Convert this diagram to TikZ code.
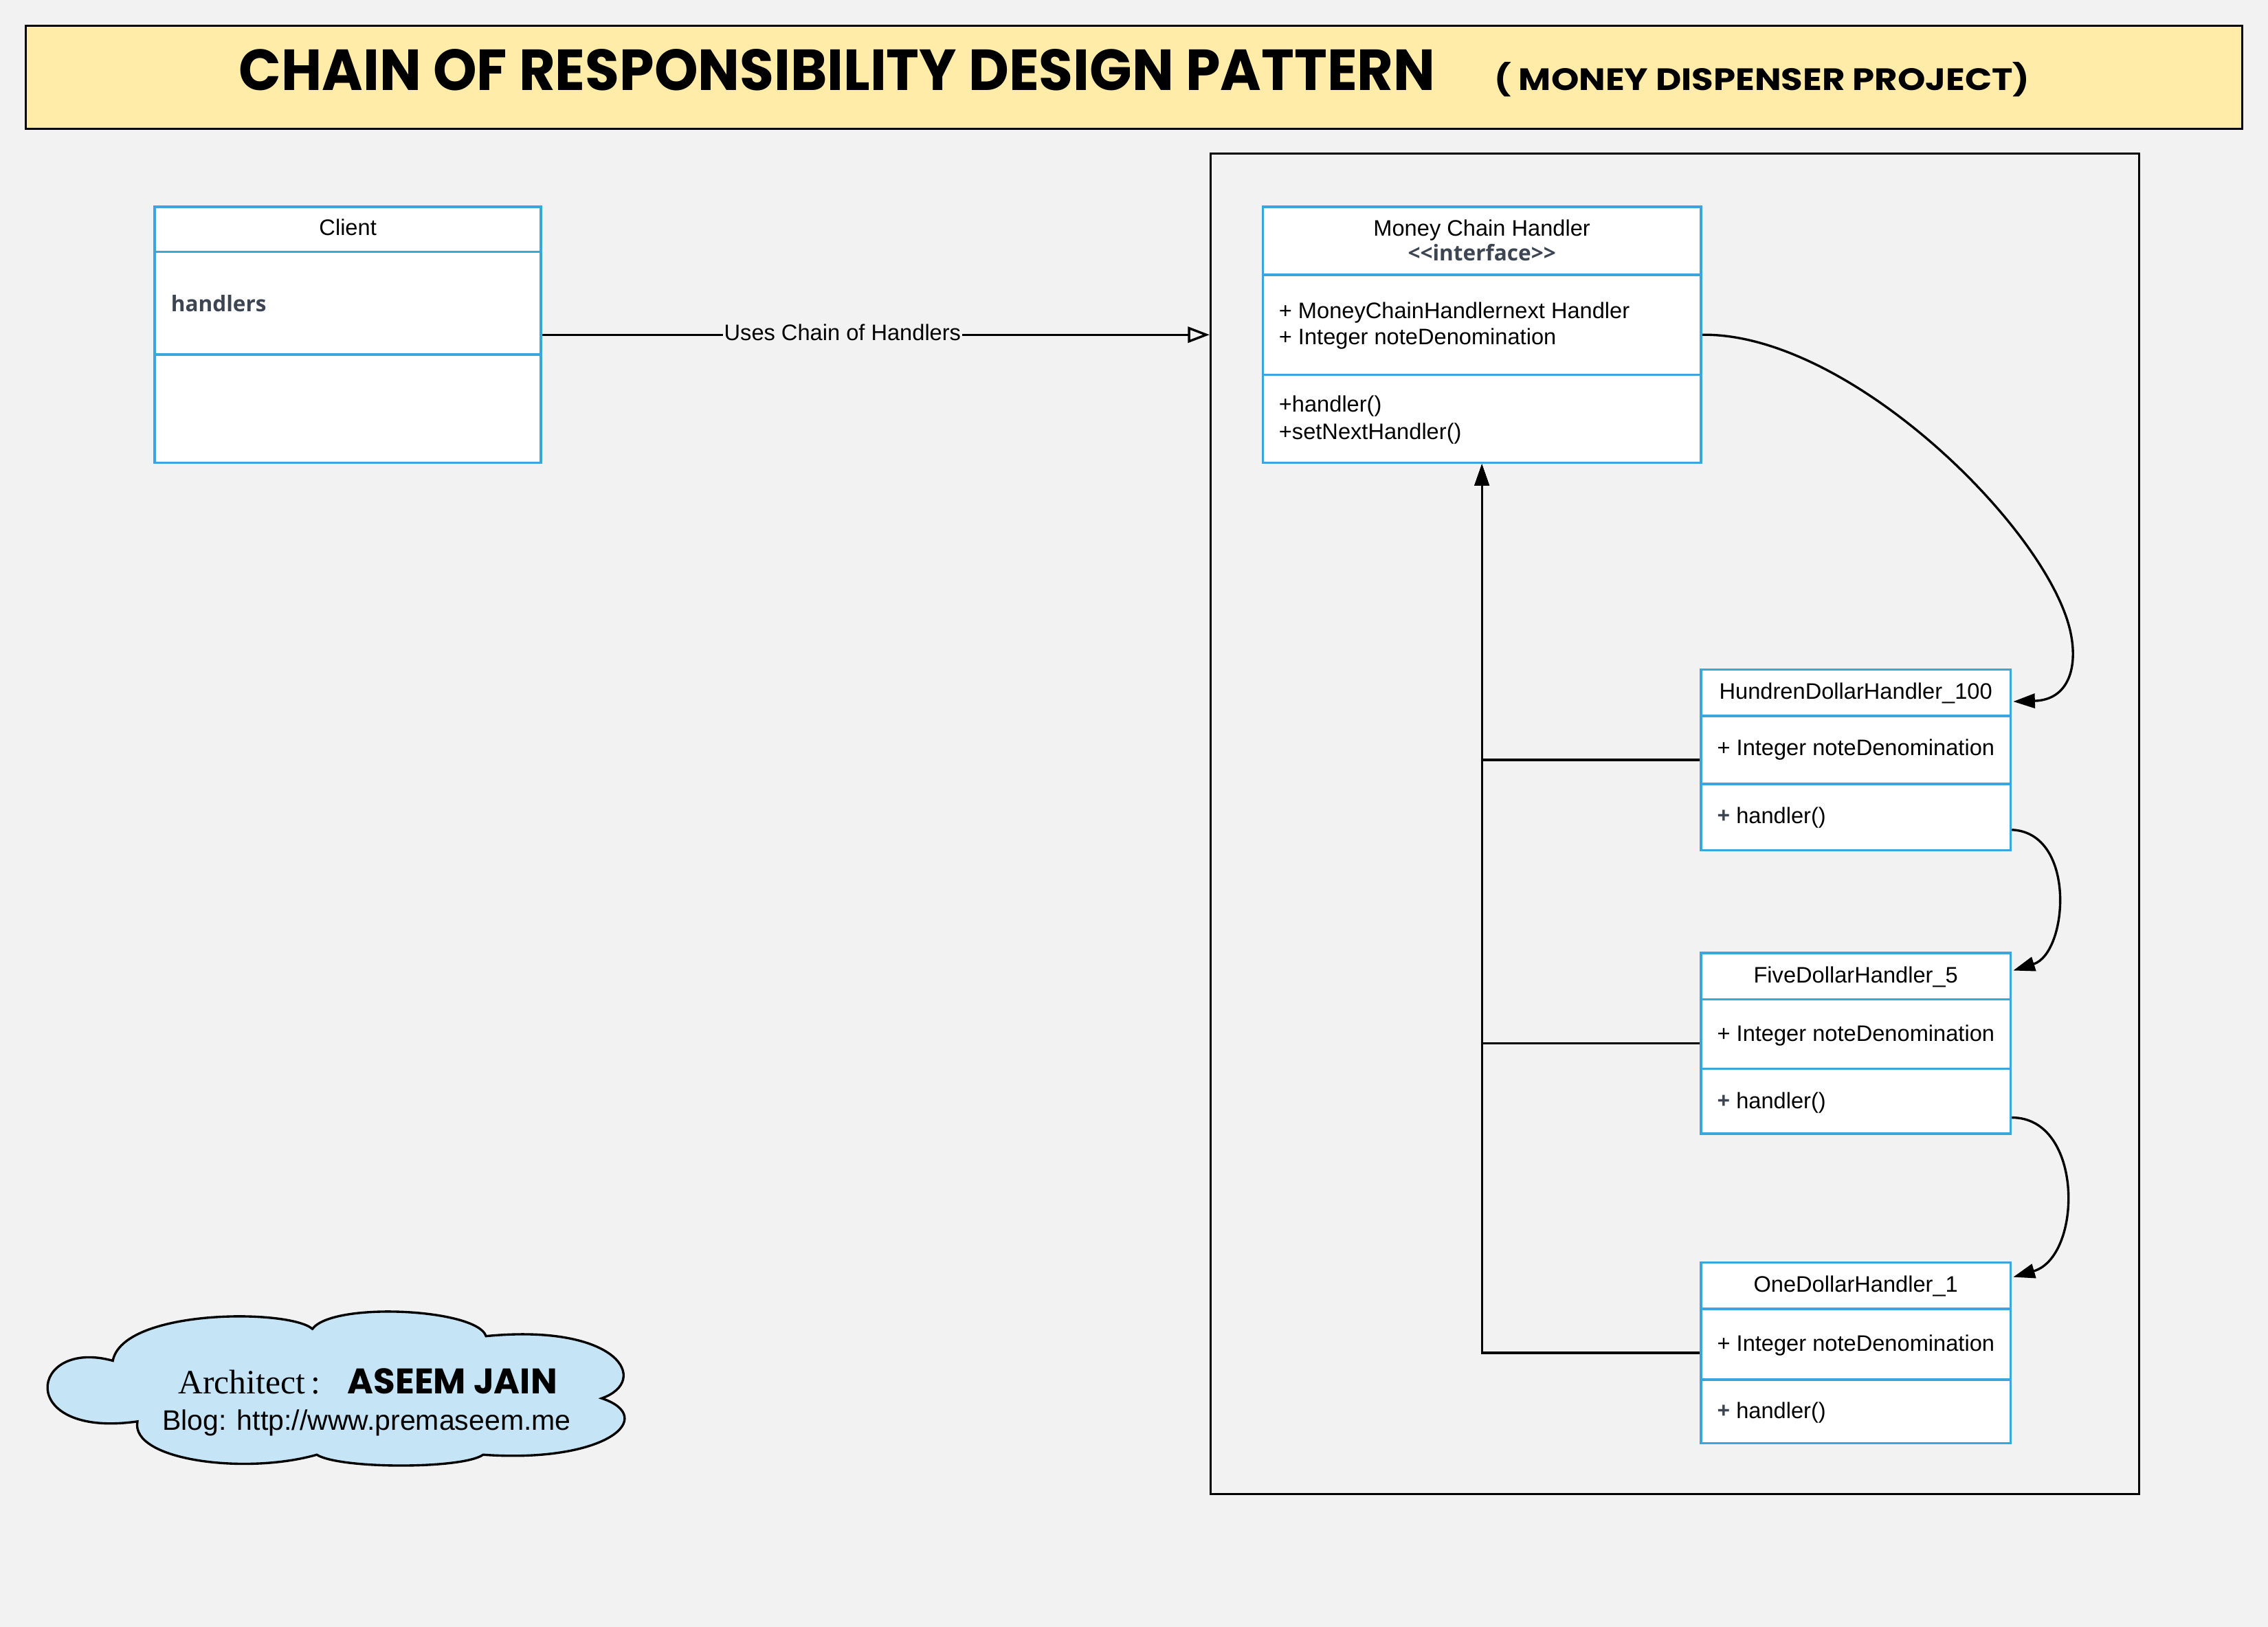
\documentclass[tikz,border=0pt]{standalone}
\usepackage{graphicx}
\usepackage{fontspec}
\setmainfont{Liberation Sans}
\newfontfamily\serifA{Liberation Serif}
\newfontfamily\uifont{Open Sans}
\newfontfamily\comicA{Poppins}
\usetikzlibrary{arrows.meta,calc}
\definecolor{bgc}{HTML}{F2F2F2}
\definecolor{hdrfill}{HTML}{FFECA9}
\definecolor{umlblue}{HTML}{3AA6DB}
\definecolor{cloudfill}{HTML}{C5E4F6}
\definecolor{greytxt}{HTML}{3D4552}
\tikzset{
  umlbox/.style={draw=umlblue, line width=1.7pt, fill=white, inner sep=0pt},
  divider/.style={draw=umlblue, line width=1.7pt},
  txt/.style={inner sep=0pt, font=\fontsize{15.5}{18}\selectfont, text height=11.1pt, text depth=0pt},
  uitxt/.style={inner sep=0pt, font=\fontsize{15}{18}\uifont\bfseries, text=greytxt, text height=10.8pt, text depth=0pt},
  conn/.style={draw=black, line width=1.6pt},
  tipfill/.style={-{Triangle[length=15pt,width=10pt]}},
  lbl/.style={fill=bgc, inner sep=1pt, font=\fontsize{15.5}{18}\selectfont, text height=11.1pt, text depth=0pt}
}
\begin{document}
\begin{tikzpicture}[x=1pt,y=-1pt]
\useasboundingbox[fill=bgc] (0,0) rectangle (1568,1125);

% header
\node[draw=black, line width=1.5pt, fill=hdrfill, minimum width=1532pt, minimum height=71pt, inner sep=0pt] (hdr) at (784,53.5) {};
\node[anchor=base west, inner sep=0pt] (title) at (165,62.5) {\resizebox{827pt}{28.5pt}{\comicA\bfseries CHAIN OF RESPONSIBILITY DESIGN PATTERN}};
\node[anchor=base west, inner sep=0pt] (subtitle) at (1033,62.5) {\resizebox{370pt}{19.5pt}{\comicA\bfseries( MONEY DISPENSER PROJECT)}};

% frame
\node[draw=black, line width=1.5pt, minimum width=642pt, minimum height=927pt, inner sep=0pt] (frame) at (1158,569.5) {};

% client
\node[umlbox, minimum width=267pt, minimum height=177pt] (client) at (240.5,231.5) {};
\draw[divider] ([yshift=-32pt]client.north west) -- ([yshift=-32pt]client.north east);
\draw[divider] ([yshift=-103pt]client.north west) -- ([yshift=-103pt]client.north east);
\node[txt] (clientT) at (240.5,157) {Client};
\node[uitxt, anchor=west] (clientA) at (118,210) {handlers};

% money chain handler
\node[umlbox, minimum width=303pt, minimum height=177pt] (mch) at (1024.5,231.5) {};
\draw[divider] ([yshift=-48pt]mch.north west) -- ([yshift=-48pt]mch.north east);
\draw[divider] ([yshift=-117pt]mch.north west) -- ([yshift=-117pt]mch.north east);
\node[txt] (mchT) at (1024.5,157.6) {Money Chain Handler};
\node[uitxt] (mchS) at (1024.5,175) {<\kern0pt<interface>\kern0pt>};
\node[txt, anchor=west] (mchA1) at (884,214.6) {+ MoneyChainHandlernext Handler};
\node[txt, anchor=west] (mchA2) at (884,232.8) {+ Integer noteDenomination};
\node[txt, anchor=west] (mchM1) at (884,279.5) {+handler()};
\node[txt, anchor=west] (mchM2) at (884,298.5) {+setNextHandler()};

% handlers
\node[umlbox, minimum width=214pt, minimum height=125pt] (hund) at (1283,525.5) {};
\draw[divider] ([yshift=-33pt]hund.north west) -- ([yshift=-33pt]hund.north east);
\draw[divider] ([yshift=-80pt]hund.north west) -- ([yshift=-80pt]hund.north east);
\node[txt] (hundT) at (1283,478) {HundrenDollarHandler\_100};
\node[txt, anchor=west] (hundA) at (1187,517) {+ Integer noteDenomination};
\node[txt, anchor=west] (hundM) at (1187,564) {{\uifont\bfseries\color{greytxt}+} handler()};

\node[umlbox, minimum width=214pt, minimum height=125pt] (five) at (1283,721.5) {};
\draw[divider] ([yshift=-33pt]five.north west) -- ([yshift=-33pt]five.north east);
\draw[divider] ([yshift=-81pt]five.north west) -- ([yshift=-81pt]five.north east);
\node[txt] (fiveT) at (1283,674.3) {FiveDollarHandler\_5};
\node[txt, anchor=west] (fiveA) at (1187,714.6) {+ Integer noteDenomination};
\node[txt, anchor=west] (fiveM) at (1187,760.9) {{\uifont\bfseries\color{greytxt}+} handler()};

\node[umlbox, minimum width=214pt, minimum height=125pt] (one) at (1283,935.5) {};
\draw[divider] ([yshift=-33pt]one.north west) -- ([yshift=-33pt]one.north east);
\draw[divider] ([yshift=-82pt]one.north west) -- ([yshift=-82pt]one.north east);
\node[txt] (oneT) at (1283,888) {OneDollarHandler\_1};
\node[txt, anchor=west] (oneA) at (1187,928.7) {+ Integer noteDenomination};
\node[txt, anchor=west] (oneM) at (1187,975.5) {{\uifont\bfseries\color{greytxt}+} handler()};

% client -> chain
\draw[conn, -{Triangle[open, length=15pt, width=11pt]}] (client.east) -- node[lbl, pos=.45, yshift=1.5pt] (usesL) {Uses Chain of Handlers} (client.east -| frame.west);

% handlers -> interface
\draw[conn, tipfill] (one.west) -| (mch.south);
\draw[conn, tipfill] (five.west) -| (mch.south);
\draw[conn, tipfill] (hund.west) -| (mch.south);

% chain curves
\coordinate (bend1) at (1432,440);
\coordinate (hundIn) at ($(hund.north east)+(1,23)$);
\coordinate (hundOut) at ($(hund.south east)+(0,-15)$);
\coordinate (fiveIn) at ($(five.north east)+(1,13)$);
\coordinate (fiveOut) at ($(five.south east)+(0,-12)$);
\coordinate (oneIn) at ($(one.north east)+(1,11)$);
\draw[conn, tipfill] (mch.east) .. controls (1280,230) and (1420,370) .. (bend1) .. controls (1436,462) and (1430,484) .. (hundIn);
\draw[conn, tipfill] (hundOut) .. controls +(45,2) and +(38,-12) .. (fiveIn);
\draw[conn, tipfill] (fiveOut) .. controls +(50,0) and +(48,-14) .. (oneIn);

% cloud
\draw[line width=1.6pt, fill=cloudfill]
  (78,941) .. controls (20,925) and (10,995) .. (95,983)
  .. controls (90,1010) and (170,1020) .. (219,1006)
  .. controls (235,1016) and (320,1016) .. (334,1006)
  .. controls (420,1012) and (455,980) .. (416,967)
  .. controls (450,955) and (428,915) .. (336,924)
  .. controls (330,905) and (230,900) .. (216,919)
  .. controls (200,905) and (85,905) .. cycle;
\node[anchor=base west, inner sep=0pt] (arch) at (123,963.6) {\fontsize{23.6}{28}\serifA Architect\,:};
\node[anchor=base west, inner sep=0pt] (aname) at (240,963.7) {\resizebox{145pt}{17.5pt}{\comicA\bfseries ASEEM JAIN}};
\node[anchor=base west, inner sep=0pt] (blog) at (112,989) {\fontsize{19.5}{23}\selectfont Blog: http://www.premaseem.me};
\end{tikzpicture}
\end{document}
